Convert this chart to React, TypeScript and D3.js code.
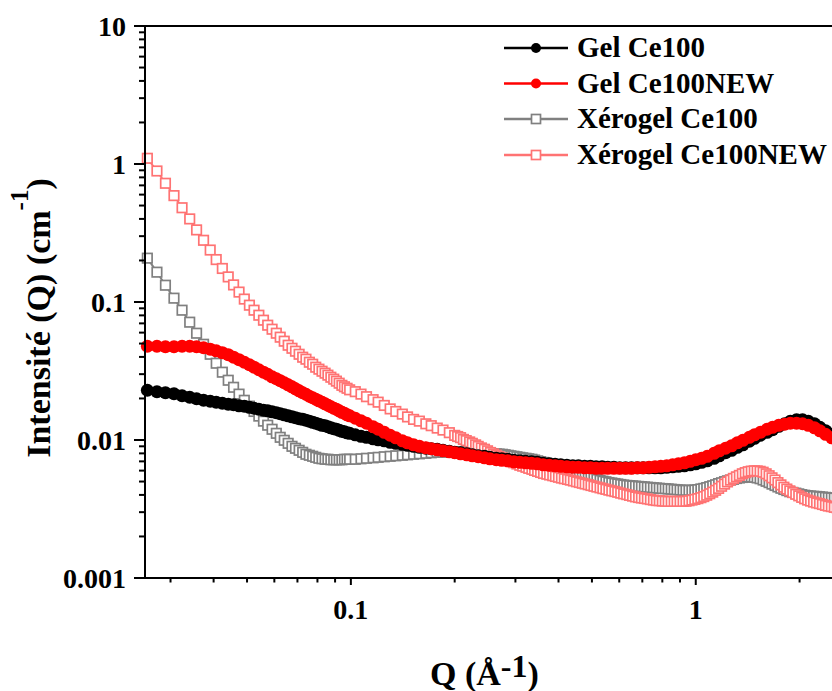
import React from 'react';
import * as d3 from 'd3';

// Q grid for the gel series (circles)
const Q = [0.0257, 0.0274, 0.029, 0.0307, 0.0324, 0.0341, 0.0357, 0.0374, 0.0391, 0.0407, 0.0424, 0.0441, 0.0457, 0.0474, 0.0491, 0.0508, 0.0524, 0.0541, 0.0558, 0.0574, 0.0591, 0.0608, 0.0624, 0.0641, 0.0658, 0.0675, 0.0691, 0.0708, 0.0725, 0.0741, 0.0758, 0.0775, 0.0791, 0.0808, 0.0825, 0.0842, 0.0858, 0.0875, 0.0892, 0.0908, 0.0925, 0.0942, 0.0958, 0.0975, 0.0992,
  0.103, 0.107, 0.111, 0.116, 0.12, 0.125, 0.13, 0.135, 0.141, 0.146, 0.152, 0.158, 0.165, 0.171, 0.178, 0.185, 0.193, 0.2, 0.208, 0.217, 0.225, 0.234, 0.244, 0.253, 0.264, 0.274, 0.285, 0.297, 0.309, 0.321, 0.334, 0.347, 0.361, 0.376, 0.391, 0.406, 0.423, 0.44, 0.457, 0.476, 0.495, 0.514, 0.535, 0.556, 0.579, 0.602, 0.626, 0.651, 0.677, 0.704, 0.732, 0.762, 0.792, 0.824, 0.857, 0.891, 0.927, 0.964, 1.0, 1.04, 1.08, 1.13, 1.17, 1.22, 1.27, 1.32, 1.37, 1.43, 1.48, 1.54, 1.61, 1.67, 1.74, 1.81, 1.88, 1.96, 2.04, 2.12, 2.21, 2.29, 2.38, 2.48, 2.58];

const GEL_CE100 = [0.02293, 0.02236, 0.022, 0.02163, 0.02092, 0.0204, 0.0199, 0.01941, 0.01909, 0.01877, 0.01846, 0.01815, 0.018, 0.0177, 0.01756, 0.01726, 0.01698, 0.0167, 0.01642, 0.01628, 0.01601, 0.01575, 0.01549, 0.01523, 0.01498, 0.01473, 0.01449, 0.01425, 0.01413, 0.0139, 0.01367, 0.01344, 0.01322, 0.013, 0.01278, 0.01268, 0.01247, 0.01226, 0.01206, 0.01196, 0.01176, 0.01156, 0.01147, 0.01128, 0.01118,
  0.01091, 0.01064, 0.01046, 0.0102, 0.01003, 0.00987, 0.00962, 0.00946, 0.00931, 0.00915, 0.009, 0.00885, 0.00871, 0.00864, 0.00856, 0.00842, 0.00828, 0.00815, 0.00808, 0.00794, 0.00781, 0.00768, 0.00762, 0.00749, 0.00737, 0.00731, 0.00725, 0.00712, 0.00707, 0.00701, 0.00695, 0.00689, 0.00678, 0.00672, 0.00666, 0.00661, 0.00655, 0.0065, 0.0065, 0.00645, 0.00645, 0.00639, 0.00639, 0.00634, 0.00634, 0.00629, 0.00629, 0.00629, 0.00629, 0.00629, 0.00629, 0.00629, 0.00629, 0.00634, 0.00639, 0.00645, 0.0065, 0.00661, 0.00672, 0.00689, 0.00707, 0.00737, 0.00768, 0.00808, 0.00842, 0.00885, 0.00923, 0.00979, 0.01029, 0.01082, 0.01137, 0.01186, 0.01257, 0.01311, 0.01366, 0.014, 0.014, 0.01366, 0.01311, 0.01236, 0.01166, 0.011, 0.01037];

const GEL_CE100_NEW = [0.0478, 0.0478, 0.0474, 0.0474, 0.0478, 0.0478, 0.0474, 0.0466, 0.0455, 0.0443, 0.0429, 0.0415, 0.0398, 0.0382, 0.0366, 0.0351, 0.0337, 0.0323, 0.031, 0.02995, 0.0287, 0.0278, 0.0269, 0.026, 0.0251, 0.0243, 0.0235, 0.0227, 0.022, 0.02145, 0.02075, 0.02023, 0.01973, 0.01924, 0.01877, 0.0183, 0.01785, 0.01741, 0.01698, 0.0167, 0.01628, 0.01588, 0.01562, 0.01523, 0.01498,
  0.01437, 0.01378, 0.01322, 0.01247, 0.01196, 0.01137, 0.01082, 0.01037, 0.00987, 0.00954, 0.00923, 0.009, 0.00878, 0.00864, 0.00849, 0.00835, 0.00821, 0.00808, 0.00794, 0.00781, 0.00768, 0.00756, 0.00743, 0.00731, 0.00719, 0.00712, 0.00707, 0.00695, 0.00689, 0.00683, 0.00678, 0.00672, 0.00661, 0.00655, 0.0065, 0.00645, 0.00639, 0.00634, 0.00634, 0.00629, 0.00629, 0.00623, 0.00623, 0.00623, 0.00623, 0.00623, 0.00623, 0.00623, 0.00629, 0.00629, 0.00634, 0.00639, 0.00645, 0.0065, 0.00661, 0.00672, 0.00683, 0.00701, 0.00719, 0.00737, 0.00762, 0.00801, 0.00835, 0.00871, 0.00908, 0.00954, 0.00995, 0.01046, 0.01091, 0.01137, 0.01196, 0.01236, 0.01278, 0.013, 0.01322, 0.01322, 0.01311, 0.01278, 0.01226, 0.01166, 0.011, 0.01037, 0.00979];

// Q grid for the xerogel series (open squares), denser at high Q
const XQ = [0.0257, 0.0274, 0.029, 0.0307, 0.0324, 0.0341, 0.0357, 0.0374, 0.0391, 0.0407, 0.0424, 0.0441, 0.0457, 0.0474, 0.0491, 0.0508, 0.0524, 0.0541, 0.0558, 0.0574, 0.0591, 0.0608, 0.0624, 0.0641, 0.0658, 0.0675, 0.0691, 0.0708, 0.0725, 0.0741, 0.0758, 0.0775, 0.0791, 0.0808, 0.0825, 0.0842, 0.0858, 0.0875, 0.0892, 0.0908, 0.0925, 0.0942, 0.0958, 0.0975, 0.0992,
  0.103, 0.107, 0.111, 0.116, 0.12, 0.125, 0.13, 0.135, 0.141, 0.146, 0.152, 0.158, 0.165, 0.171, 0.178, 0.185, 0.193,
  0.2, 0.204, 0.208, 0.212, 0.216, 0.221, 0.225, 0.23, 0.234, 0.239, 0.244, 0.249, 0.254, 0.259, 0.264, 0.269, 0.275, 0.28, 0.286, 0.291, 0.297, 0.303, 0.309, 0.315, 0.322, 0.328, 0.335, 0.341, 0.348, 0.355, 0.362, 0.37, 0.377, 0.385, 0.392, 0.4, 0.408, 0.416, 0.425, 0.433, 0.442, 0.451, 0.46, 0.469, 0.478, 0.488, 0.497, 0.507, 0.517, 0.528, 0.538, 0.549, 0.56, 0.571, 0.583, 0.594, 0.606, 0.618, 0.631, 0.643, 0.656, 0.669, 0.683, 0.696, 0.71, 0.724, 0.739, 0.754, 0.769, 0.784, 0.8, 0.816, 0.832, 0.849, 0.866, 0.883, 0.901, 0.919, 0.937, 0.956, 0.975, 0.994, 1.014, 1.035, 1.055, 1.076, 1.098, 1.12, 1.142, 1.165, 1.188, 1.212, 1.236, 1.261, 1.286, 1.312, 1.338, 1.365, 1.392, 1.42, 1.449, 1.478, 1.507, 1.537, 1.568, 1.6, 1.632, 1.664, 1.698, 1.731, 1.766, 1.801, 1.837, 1.874, 1.912, 1.95, 1.989, 2.029, 2.069, 2.111, 2.153, 2.196, 2.24, 2.285, 2.33, 2.377, 2.424, 2.473, 2.522, 2.573];

const XEROGEL_CE100 = [0.2078, 0.1645, 0.1323, 0.1066, 0.0872, 0.0714, 0.0594, 0.0494, 0.0418, 0.036, 0.031, 0.0271, 0.0241, 0.0215, 0.0194, 0.0176, 0.0161, 0.0149, 0.0137, 0.0128, 0.01196, 0.01118, 0.01046, 0.00995, 0.00946, 0.009, 0.00871, 0.00842, 0.00814, 0.00788, 0.00775, 0.00762, 0.00749, 0.00737, 0.00731, 0.00725, 0.00725, 0.00719, 0.00719, 0.00719, 0.00719, 0.00719, 0.00725, 0.00725, 0.00725,
  0.00725, 0.00731, 0.00737, 0.00743, 0.00749, 0.00756, 0.00762, 0.00768, 0.00775, 0.00781, 0.00788, 0.00794, 0.00801, 0.00808, 0.00815, 0.00815, 0.00821,
  0.00821, 0.00821, 0.00821, 0.00821, 0.00821, 0.00818, 0.00815, 0.00815, 0.00815, 0.00812, 0.00808, 0.00805, 0.00801, 0.00797, 0.00794, 0.00791, 0.00788, 0.00782, 0.00775, 0.00768, 0.00762, 0.00756, 0.00749, 0.00743, 0.00737, 0.00731, 0.00725, 0.00716, 0.00706, 0.00697, 0.00688, 0.00679, 0.00671, 0.00663, 0.00654, 0.00646, 0.00637, 0.00629, 0.00622, 0.00611, 0.00602, 0.00594, 0.00586, 0.00575, 0.00564, 0.00552, 0.00539, 0.00529, 0.00518, 0.0051, 0.00503, 0.00498, 0.00492, 0.00488, 0.00484, 0.0048, 0.00476, 0.00472, 0.00469, 0.00467, 0.00465, 0.00463, 0.00461, 0.00459, 0.00457, 0.00455, 0.00453, 0.00451, 0.00449, 0.00447, 0.00445, 0.00444, 0.00442, 0.0044, 0.00438, 0.00436, 0.00434, 0.00432, 0.00432, 0.00432, 0.00432, 0.00434, 0.00437, 0.00442, 0.00446, 0.00452, 0.00459, 0.00466, 0.00474, 0.00483, 0.0049, 0.00499, 0.00506, 0.00513, 0.00519, 0.00526, 0.00531, 0.00535, 0.00538, 0.0054, 0.0054, 0.00537, 0.00531, 0.00524, 0.00513, 0.00502, 0.00491, 0.00479, 0.00468, 0.00457, 0.00447, 0.00438, 0.0043, 0.00422, 0.00417, 0.00412, 0.00407, 0.00402, 0.00398, 0.00395, 0.00393, 0.00391, 0.0039, 0.00388, 0.00386, 0.00384, 0.00382, 0.00381, 0.0038, 0.00378];

const XEROGEL_CE100_NEW = [1.1, 0.89, 0.725, 0.59, 0.482, 0.4, 0.333, 0.28, 0.238, 0.203, 0.175, 0.152, 0.133, 0.118, 0.105, 0.0948, 0.0872, 0.0802, 0.0738, 0.0679, 0.0635, 0.0594, 0.0556, 0.052, 0.0486, 0.0462, 0.044, 0.0418, 0.0398, 0.0385, 0.0366, 0.0354, 0.0337, 0.0326, 0.0315, 0.0305, 0.0295, 0.0285, 0.0276, 0.0267, 0.0258, 0.0249, 0.0243, 0.0237, 0.0231,
  0.0224, 0.0215, 0.0206, 0.0196, 0.0188, 0.0178, 0.0168, 0.0161, 0.0154, 0.0147, 0.0141, 0.0137, 0.0131, 0.0127, 0.0122, 0.0118, 0.0113,
  0.0108, 0.0106, 0.0104, 0.0101, 0.0099, 0.00968, 0.00946, 0.00922, 0.00899, 0.00876, 0.00857, 0.00835, 0.00812, 0.00793, 0.00776, 0.00759, 0.00742, 0.00728, 0.00713, 0.00697, 0.00684, 0.0067, 0.00656, 0.00646, 0.00634, 0.00623, 0.00613, 0.00602, 0.00592, 0.00582, 0.00572, 0.00565, 0.00558, 0.00551, 0.00544, 0.00537, 0.0053, 0.00524, 0.00518, 0.00512, 0.00505, 0.00498, 0.00492, 0.00486, 0.0048, 0.00474, 0.00468, 0.00462, 0.00456, 0.0045, 0.00444, 0.00439, 0.00433, 0.00428, 0.00423, 0.00418, 0.00412, 0.00407, 0.00402, 0.00397, 0.00392, 0.00387, 0.00383, 0.0038, 0.00377, 0.00374, 0.0037, 0.00367, 0.00364, 0.00363, 0.00361, 0.0036, 0.00359, 0.00359, 0.00359, 0.00359, 0.00359, 0.00359, 0.0036, 0.00363, 0.00367, 0.00371, 0.00376, 0.00382, 0.00389, 0.00398, 0.00408, 0.00419, 0.00432, 0.00446, 0.00462, 0.00479, 0.00497, 0.00512, 0.00527, 0.00541, 0.00554, 0.00569, 0.0058, 0.00589, 0.00595, 0.00598, 0.00597, 0.00593, 0.00584, 0.00569, 0.00551, 0.00532, 0.00513, 0.00491, 0.00473, 0.00455, 0.00441, 0.00428, 0.00416, 0.00404, 0.00394, 0.00384, 0.00375, 0.00367, 0.00361, 0.00355, 0.0035, 0.00346, 0.00341, 0.00336, 0.00332, 0.00329, 0.00325, 0.00321];

const SERIES_NAMES = ['Gel Ce100', 'Gel Ce100NEW', 'Xérogel Ce100', 'Xérogel Ce100NEW'];
const X_MAJOR = [0.1, 1];
const X_LABELS = ['0.1', '1'];
const Y_MAJOR = [0.001, 0.01, 0.1, 1, 10];
const Y_LABELS = ['0.001', '0.01', '0.1', '1', '10'];

const FONT = "'Liberation Serif','Times New Roman',Times,serif";

export default function App() {
  const W = 832, H = 691;
  const x = d3.scaleLog().domain([0.0253, 2.5]).range([145, 833]);
  const y = d3.scaleLog().domain([0.001, 10]).range([578, 26]);

  const series = [
    { name: SERIES_NAMES[0], q: Q, data: GEL_CE100, color: '#000000', shape: 'circle' },
    { name: SERIES_NAMES[1], q: Q, data: GEL_CE100_NEW, color: '#ff0000', shape: 'circle' },
    { name: SERIES_NAMES[2], q: XQ, data: XEROGEL_CE100, color: '#808080', shape: 'square' },
    { name: SERIES_NAMES[3], q: XQ, data: XEROGEL_CE100_NEW, color: '#ff7373', shape: 'square' },
  ];
  const drawOrder = [series[2], series[3], series[0], series[1]];

  const line = d3.line<[number, number]>().x(d => x(d[0])).y(d => y(d[1]));

  const xMinor: number[] = [];
  [0.01, 0.1, 1].forEach(dec => { for (let k = 2; k <= 9; k++) { const v = dec * k; if (v >= 0.0253 && v <= 2.5) xMinor.push(v); } });
  const yMinor: number[] = [];
  [0.001, 0.01, 0.1, 1].forEach(dec => { for (let k = 2; k <= 9; k++) yMinor.push(dec * k); });

  const marker = (s: any, cx: number, cy: number, key: any, legend = false) => {
    if (s.shape === 'circle') return <circle key={key} cx={cx} cy={cy} r={legend ? 5 : 6.5} fill={s.color} />;
    const a = legend ? 9 : 9.5;
    return <rect key={key} x={cx - a / 2} y={cy - a / 2} width={a} height={a} fill="#fff" stroke={s.color} strokeWidth={1.7} />;
  };

  const legendY = [48, 83.5, 119, 155];

  return (
    <svg width={W} height={H} style={{ position: 'absolute', left: 0, top: 0, background: '#fff' }} fontFamily={FONT}>
      <rect x={0} y={0} width={W} height={H} fill="#fff" />
      {drawOrder.map((s, si) => {
        const n = Math.min(s.q.length, s.data.length);
        const pts: [number, number][] = [];
        for (let i = 0; i < n; i++) pts.push([s.q[i], s.data[i]]);
        return (
          <g key={si}>
            <path d={line(pts) || ''} fill="none" stroke={s.color} strokeWidth={2} />
            {pts.map((d, i) => marker(s, x(d[0]), y(d[1]), i))}
          </g>
        );
      })}

      {/* frame */}
      <line x1={145} x2={W} y1={26} y2={26} stroke="#000" strokeWidth={2} />
      <line x1={145} x2={145} y1={25} y2={579} stroke="#000" strokeWidth={2} />
      <line x1={144} x2={W} y1={578} y2={578} stroke="#000" strokeWidth={2} />

      {/* y ticks */}
      {Y_MAJOR.map((v, i) => (
        <g key={'ym' + i}>
          <line x1={134} x2={145} y1={y(v)} y2={y(v)} stroke="#000" strokeWidth={2} />
          <text x={126} y={y(v) + 9.5} textAnchor="end" fontSize={28} fontWeight="bold">{Y_LABELS[i]}</text>
        </g>
      ))}
      {yMinor.map((v, i) => (
        <line key={'yn' + i} x1={139} x2={145} y1={y(v)} y2={y(v)} stroke="#000" strokeWidth={2} />
      ))}

      {/* x ticks */}
      {X_MAJOR.map((v, i) => (
        <g key={'xm' + i}>
          <line x1={x(v)} x2={x(v)} y1={578} y2={585} stroke="#000" strokeWidth={2} />
          <text x={x(v)} y={619} textAnchor="middle" fontSize={28} fontWeight="bold">{X_LABELS[i]}</text>
        </g>
      ))}
      {xMinor.map((v, i) => (
        <line key={'xn' + i} x1={x(v)} x2={x(v)} y1={578} y2={582.5} stroke="#000" strokeWidth={2} />
      ))}

      {/* axis titles */}
      <text x={430} y={685} fontSize={34} fontWeight="bold">
        Q (Å<tspan fontSize={32} dy={-8}>-1</tspan><tspan dy={8}>)</tspan>
      </text>
      <text transform="translate(50,318) rotate(-90)" textAnchor="middle" fontSize={34} fontWeight="bold">
        Intensité (Q) (cm<tspan fontSize={25} dy={-22}>-1</tspan><tspan dy={22}>)</tspan>
      </text>

      {/* legend */}
      {series.map((s, i) => (
        <g key={'lg' + i}>
          <line x1={504} x2={568} y1={legendY[i]} y2={legendY[i]} stroke={s.color} strokeWidth={2.5} />
          {marker(s, 536, legendY[i], 'm', true)}
          <text x={577} y={legendY[i] + 9} fontSize={29} fontWeight="bold">{s.name}</text>
        </g>
      ))}
    </svg>
  );
}
